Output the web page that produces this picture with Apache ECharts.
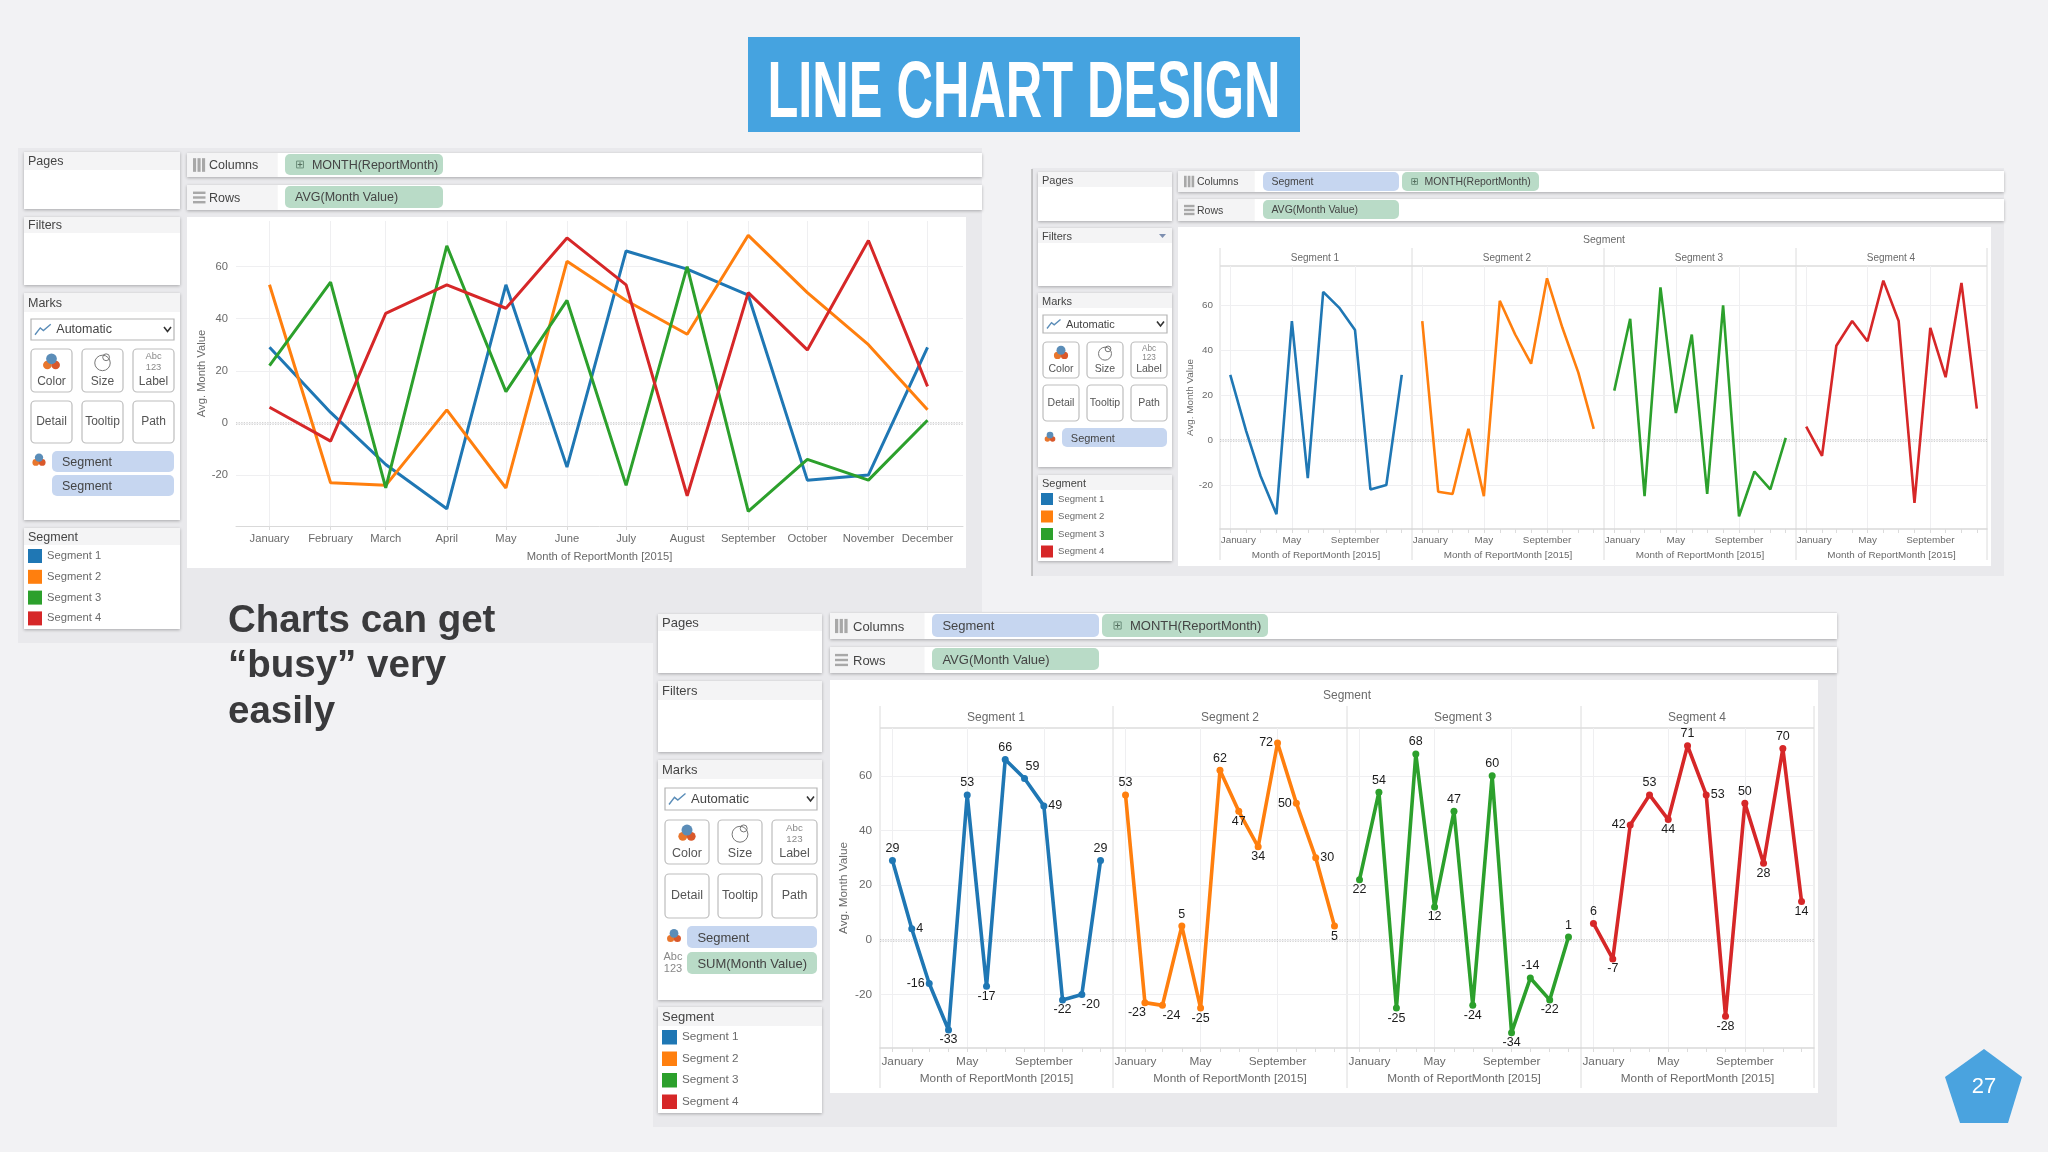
<!DOCTYPE html>
<html><head><meta charset="utf-8">
<style>html,body{margin:0;padding:0;background:#f2f2f4}#c{width:2048px;height:1152px}</style>
<script src="https://cdn.jsdelivr.net/npm/echarts@6/dist/echarts.min.js"></script>
</head><body><div id="c"></div>
<script>
// ---- data ----
const months = ['January','February','March','April','May','June','July','August','September','October','November','December'];
const sparseMonths = ['January','May','September'];
const yTicks = [-20,0,20,40,60];
const segmentNames = ['Segment 1','Segment 2','Segment 3','Segment 4'];
const segment1 = [29,4,-16,-33,53,-17,66,59,49,-22,-20,29];
const segment2 = [53,-23,-24,5,-25,62,47,34,72,50,30,5];
const segment3 = [22,54,-25,68,12,47,-24,60,-34,-14,-22,1];
const segment4 = [6,-7,42,53,44,71,53,-28,50,28,70,14];
const segmentColors = ['#1f77b4','#ff7f0e','#2ca02c','#d62728'];
const allSegments = [segment1,segment2,segment3,segment4];
// label placement for the labelled small multiples (styling, not data)
const labelSides = [
 ['t','r','l','b','t','b','t','tr','r','b','br','t'],
 ['t','bl','br','t','b','t','b','b','l','l','r','b'],
 ['b','t','b','t','b','t','b','t','b','t','b','t'],
 ['t','b','l','t','b','t','r','b','t','b','t','b']
];
const FONT = '"Liberation Sans", Arial, sans-serif';
const DAY = 86400000;
const monthTime = i => Date.UTC(2015,i,1);
const xValues = months.map((m,i)=>monthTime(i));
const sparseValues = sparseMonths.map(m=>monthTime(months.indexOf(m)));
const Y_MIN=-39.6, Y_MAX=77.5;

const grids=[],xAxes=[],yAxes=[],series=[];
function addPane(o){
  grids.push({left:o.left,top:o.top,width:o.right-o.left,height:o.bottom-o.top,show:!!o.frame,borderColor:'#d9d9d9',borderWidth:1,backgroundColor:'transparent'});
  const xmin=monthTime(0)-o.padL*DAY, xmax=monthTime(11)+o.padR*DAY;
  const labelVals=o.sparse?sparseValues:xValues;
  const fs=o.fs;
  const fmt=v=>{const n=months[new Date(v).getUTCMonth()];return (o.sparse&&n==='January')?'{j|'+n+'}':n;};
  // main x axis: labels, ticks and title (monthly positions are date-proportional)
  xAxes.push({gridIndex:grids.length-1,type:'value',min:xmin,max:xmax,position:'bottom',z:3,
    name:'Month of ReportMonth [2015]',nameLocation:'middle',nameGap:o.nameGapX,
    nameTextStyle:{fontFamily:FONT,fontSize:fs,color:'#6a6a6a'},
    axisLine:{show:true,onZero:false,lineStyle:{color:'#d9d9d9',width:o.frame?1:1.5}},
    axisTick:{show:true,length:4,customValues:xValues,lineStyle:{color:'#dcdcdc'}},
    axisLabel:{show:true,customValues:labelVals,hideOverlap:false,showMinLabel:true,showMaxLabel:true,margin:o.marginX,
      fontFamily:FONT,fontSize:fs,color:'#6a6a6a',formatter:fmt,
      rich:{j:{fontFamily:FONT,fontSize:fs,color:'#6a6a6a',padding:[0,0,0,o.janShift||0]}}},
    splitLine:{show:false},minorTick:{show:false},minorSplitLine:{show:false}});
  const xIdx=xAxes.length-1;
  // second x axis on the same grid: vertical grid lines only
  xAxes.push({gridIndex:grids.length-1,type:'value',min:xmin,max:xmax,position:'bottom',z:1,
    axisLine:{show:false,onZero:false},axisLabel:{show:false},
    axisTick:{show:false,customValues:labelVals},
    splitLine:{show:true,lineStyle:{color:'#efeff1',width:1}}});
  yAxes.push({gridIndex:grids.length-1,type:'value',min:Y_MIN,max:Y_MAX,z:3,
    name:o.showY?'Avg. Month Value':'',nameLocation:'middle',nameGap:o.nameGapY,
    nameTextStyle:{fontFamily:FONT,fontSize:fs,color:'#6a6a6a'},
    axisLine:{show:false},axisTick:{show:false,customValues:yTicks},
    axisLabel:{show:!!o.showY,customValues:yTicks,margin:o.marginY,fontFamily:FONT,fontSize:fs,color:'#6a6a6a'},
    splitLine:{show:true,lineStyle:{color:'#efeff1',width:1}}});
  const yIdx=yAxes.length-1;
  o.lines.forEach((k,n)=>{
    const vals=allSegments[k];
    const s={type:'line',name:segmentNames[k],xAxisIndex:xIdx,yAxisIndex:yIdx,z:4,
      itemStyle:{color:segmentColors[k]},
      lineStyle:{color:segmentColors[k],width:o.width},
      showSymbol:!!o.labels,symbol:'circle',symbolSize:o.labels?7:0,
      silent:true,
      data:vals.map((v,i)=>{
        const d={value:[monthTime(i),v]};
        if(o.labels){
          const side=labelSides[k][i];
          const pos={t:'top',b:'bottom',l:'left',r:'right',tr:'top',br:'bottom',bl:'bottom'}[side];
          const off={tr:[8,0],br:[9,0],bl:[-8,0]}[side]||[0,0];
          const dist={t:2,tr:2,b:0,br:0,bl:0,l:1,r:1}[side];
          d.label={show:true,position:pos,distance:dist,offset:off,
            fontFamily:FONT,fontSize:12.5,color:'#1c1c1c',formatter:String(v)};
        }
        return d;
      })};
    if(n===0) s.markLine={silent:true,symbol:'none',z:1,animation:false,label:{show:false},
      lineStyle:{type:'dotted',color:'#555',width:1.3},data:[{yAxis:0}]};
    series.push(s);
  });
}

// ---- chrome helpers ----
const els=[];
const rect=(x0,y0,x1,y1,fill,r,extra)=>els.push({type:'rect',silent:true,shape:{x:x0,y:y0,width:x1-x0,height:y1-y0,r:r||0},style:Object.assign({fill:fill},extra||{})});
const text=(x,y,s,size,color,align,weight)=>els.push({type:'text',silent:true,style:{x:x,y:y,text:s,font:(weight||'normal')+' '+size+'px '+FONT,fill:color||'#555',align:align||'left',verticalAlign:'middle'}});
const seg=(x0,y0,x1,y1,c,w,dash)=>els.push({type:'line',silent:true,shape:{x1:x0,y1:y0,x2:x1,y2:y1},style:{stroke:c,lineWidth:w||1,lineDash:dash||null}});
const poly=(pts,c,w)=>els.push({type:'polyline',silent:true,shape:{points:pts},style:{stroke:c,lineWidth:w||1.2,fill:null}});
const dot=(x,y,r,fill,stroke)=>els.push({type:'circle',silent:true,shape:{cx:x,cy:y,r:r},style:{fill:fill||'none',stroke:stroke||null,lineWidth:1}});
const SH={shadowBlur:3,shadowColor:'rgba(0,0,0,.28)',shadowOffsetY:1};
function panel(x0,y0,x1,y1,hy,title,fs){
  rect(x0,y0,x1,y1,'#fff',0,SH);
  rect(x0,y0,x1,hy,'#f4f4f5');
  if(title) text(x0+4,(y0+hy)/2+1,title,fs,'#444');
}
function shelf(x0,y0,x1,y1,labelX,label,iconX,fs,isRows){
  rect(x0,y0,x1,y1,'#fff',0,SH);
  rect(x0,y0,labelX+(fs*5.5),y1,'#f4f4f5');
  const cy=(y0+y1)/2, h=fs*.42;
  if(isRows){for(let i=-1;i<=1;i++) rect(iconX,cy+i*h*.9-1.2,iconX+fs,cy+i*h*.9+1.2,'#a8a8a8');}
  else{for(let i=0;i<3;i++) rect(iconX+i*fs*.36,cy-h*1.3,iconX+i*fs*.36+fs*.25,cy+h*1.3,'#a8a8a8');}
  text(labelX,cy+1,label,fs,'#444');
}
function pill(x0,y0,x1,y1,fill,label,fs,plus){
  rect(x0,y0,x1,y1,fill,5);
  const cy=(y0+y1)/2;
  if(plus){
    const s=fs*.55,px=x0+fs*1.2;
    rect(px-s/2,cy-s/2,px+s/2,cy+s/2,'none',0,{stroke:'#6c8f7b',lineWidth:1});
    seg(px-s/3,cy,px+s/3,cy,'#55705f',1);seg(px,cy-s/3,px,cy+s/3,'#55705f',1);
    text(x0+fs*2.15,cy+1,label,fs,'#444');
  } else text(x0+fs*.8,cy+1,label,fs,'#444');
}
function colorIcon(cx,cy,s){
  dot(cx-s*.4,cy+s*.3,s*.42,'#e8762d');dot(cx+s*.4,cy+s*.3,s*.42,'#d9582b');dot(cx,cy-s*.3,s*.52,'#5b8db8');
}
function button(x0,y0,x1,y1,label,fs,icon){
  rect(x0,y0,x1,y1,'#fff',4,{stroke:'#bdbdbd',lineWidth:1.2});
  const cx=(x0+x1)/2,h=y1-y0;
  text(cx,icon?y0+h*.76:y0+h*.5,label,fs,'#555','center');
  const iy=y0+h*.3,s=h*.24;
  if(icon==='color') colorIcon(cx,iy,s);
  if(icon==='size'){dot(cx,iy+s*.1,s*.75,'none','#777');dot(cx+s*.35,iy-s*.45,s*.33,'none','#777');}
  if(icon==='label'){text(cx,iy-s*.5,'Abc',fs*.78,'#888','center');text(cx,iy+s*.55,'123',fs*.78,'#888','center');}
}
function marks(o){
  const [a,b]=o.dropX;
  rect(a,o.dropY[0],b,o.dropY[1],'#fff',0,{stroke:'#b5b5b5',lineWidth:1.2});
  const my=(o.dropY[0]+o.dropY[1])/2, u=(o.dropY[1]-o.dropY[0])/4;
  poly([[a+4,my+u],[a+4+u,my-u*.3],[a+4+u*1.6,my+u*.2],[a+4+u*3,my-u]],'#5b8db8',1.4);
  text(a+8.5+u*3.2,my+.5,'Automatic',o.fs,'#444');
  poly([[b-10,my-2.5],[b-6.5,my+2],[b-3,my-2.5]],'#333',1.6);
  const B=o.btnX;
  button(B[0][0],o.row1[0],B[0][1],o.row1[1],'Color',o.fs-.5,'color');
  button(B[1][0],o.row1[0],B[1][1],o.row1[1],'Size',o.fs-.5,'size');
  button(B[2][0],o.row1[0],B[2][1],o.row1[1],'Label',o.fs-.5,'label');
  button(B[0][0],o.row2[0],B[0][1],o.row2[1],'Detail',o.fs-.5);
  button(B[1][0],o.row2[0],B[1][1],o.row2[1],'Tooltip',o.fs-.5);
  button(B[2][0],o.row2[0],B[2][1],o.row2[1],'Path',o.fs-.5);
}

// ---- slide backgrounds ----
rect(18,148,982,643,'#e9e9ec');
rect(1032,168,2004,576,'#e9e9ec');
seg(1032,169,1032,576,'#9a9a9a',1);

// ---- left chart chrome ----
panel(24,152,180,209,170,'Pages',12.5);
panel(24,217,180,285,233,'Filters',12.5);
panel(24,293,180,520,312,'Marks',12.5);
panel(24,528,180,629,545,'Segment',12.5);
shelf(187,153,982,177,209,'Columns',193,12.5);
shelf(187,185,982,210,209,'Rows',193,12.5,true);
pill(285,154,443,175,'#b9dbc7','MONTH(ReportMonth)',12.5,true);
pill(285,186,443,208,'#b9dbc7','AVG(Month Value)',12.5);
marks({dropX:[31,174],dropY:[319,340],btnX:[[31,72],[82,123],[133,174]],row1:[349,392],row2:[401,443],fs:12.5});
colorIcon(39,460,8);
pill(52,451,174,472,'#c6d6f0','Segment',12.5);
pill(52,475,174,496,'#c6d6f0','Segment',12.5);
rect(187,217,966,568,'#fff');

// ---- right chart chrome ----
panel(1038,172,1172,221,187,'Pages',11);
panel(1038,228,1172,286,243,'Filters',11);
els.push({type:'polygon',silent:true,shape:{points:[[1159,234],[1166,234],[1162.5,238]]},style:{fill:'#7d8fb0'}});
panel(1038,293,1172,467,308,'Marks',11);
panel(1038,475,1172,561,490,'Segment',11);
shelf(1178,171,2004,192,1197,'Columns',1184,10.5);
shelf(1178,199,2004,221,1197,'Rows',1184,10.5,true);
pill(1263,172,1399,191,'#c6d6f0','Segment',10.5);
pill(1402,172,1539,191,'#b9dbc7','MONTH(ReportMonth)',10.5,true);
pill(1263,200,1399,219,'#b9dbc7','AVG(Month Value)',10.5);
marks({dropX:[1043,1167],dropY:[315,333],btnX:[[1043,1079],[1087,1123],[1131,1167]],row1:[342,378],row2:[385,421],fs:11});
colorIcon(1050,437,6.5);
pill(1062,428,1167,447,'#c6d6f0','Segment',11);
rect(1178,227,1991,566,'#fff');
text(1604,240,'Segment',10.5,'#6a6a6a','center');
[1220,1412,1604,1796,1987].forEach(x=>seg(x,248,x,560,'#dcdcdc',1));
seg(1220,266,1987,266,'#dcdcdc',1.5);
[1315,1507,1699,1891].forEach((x,i)=>text(x,258,segmentNames[i],10,'#6a6a6a','center'));

// ---- bottom-left text and bottom chart chrome ----
[['Charts can get',621],['\u201cbusy\u201d very',666],['easily',712]].forEach(t=>text(228,t[1],t[0],38.5,'#3a3a3c','left','bold'));
rect(653,612,1837,1127,'#e9e9ec');
panel(658,614,822,673,631,'Pages',13);
panel(658,681,822,752,700,'Filters',13);
panel(658,760,822,1000,779,'Marks',13);
panel(658,1007,822,1113,1026,'Segment',13);
shelf(830,613,1837,639,853,'Columns',835,13);
shelf(830,647,1837,673,853,'Rows',835,13,true);
pill(932,614,1099,637,'#c6d6f0','Segment',13);
pill(1102,614,1268,637,'#b9dbc7','MONTH(ReportMonth)',13,true);
pill(932,648,1099,670,'#b9dbc7','AVG(Month Value)',13);
marks({dropX:[665,817],dropY:[788,810],btnX:[[665,709],[718,762],[772,817]],row1:[820,864],row2:[874,918],fs:13});
colorIcon(674,936,8.5);
pill(687,926,817,948,'#c6d6f0','Segment',13);
text(673,957,'Abc',11,'#888','center');text(673,969,'123',11,'#888','center');
pill(687,952,817,974,'#b9dbc7','SUM(Month Value)',13);
rect(830,680,1818,1093,'#fff');
text(1347,696,'Segment',12,'#6a6a6a','center');
[880,1113,1347,1581,1814].forEach(x=>seg(x,706,x,1088,'#dcdcdc',1));
seg(880,728,1814,728,'#dcdcdc',1.5);
[996,1230,1463,1697].forEach((x,i)=>text(x,718,segmentNames[i],12,'#6a6a6a','center'));

// ---- title and page number ----
rect(748,37,1300,132,'#45a3e0');
(function(){
  const ctx=document.createElement('canvas').getContext('2d');
  const font='bold 80px "Liberation Sans Narrow","Liberation Sans",sans-serif';
  ctx.font=font;const w=ctx.measureText('LINE CHART DESIGN').width;
  els.push({type:'text',silent:true,x:1024,y:95,scaleX:513/w,style:{x:0,y:0,text:'LINE CHART DESIGN',font:font,fill:'#fff',align:'center',verticalAlign:'middle'}});
})();
els.push({type:'polygon',silent:true,shape:{points:[[1984,1049],[2022,1077],[2008,1123],[1960,1123],[1945,1077]]},style:{fill:'#4aa3df'}});
text(1984,1087,'27',22,'#fff','center');

// ---- panes ----
addPane({left:236,right:963,top:221,bottom:526,padL:17,padR:18,lines:[0,1,2,3],width:3,frame:true,fs:11.2,showY:true,
  nameGapX:25,nameGapY:29,marginX:7,marginY:8});
const paneR=[[1220,1412],[1412,1604],[1604,1796],[1796,1987]];
paneR.forEach((p,i)=>addPane({left:p[0],right:p[1],top:266,bottom:529,padL:20,padR:20,lines:[i],width:2.6,sparse:true,janShift:16,fs:9.9,
  showY:i===0,nameGapX:21,nameGapY:23,marginX:6,marginY:7}));
const paneB=[[880,1113],[1113,1347],[1347,1581],[1581,1814]];
paneB.forEach((p,i)=>addPane({left:p[0],right:p[1],top:728,bottom:1048,padL:20,padR:20,lines:[i],width:3.6,labels:true,sparse:true,janShift:20,fs:11.8,
  showY:i===0,nameGapX:25,nameGapY:30,marginX:8,marginY:8}));

const legendBase={orient:'vertical',icon:'rect',itemWidth:14,itemHeight:14,selectedMode:false,data:segmentNames,z:5,padding:0};
const chart=echarts.init(document.getElementById('c'),null,{width:2048,height:1152,renderer:'canvas'});
chart.setOption({
  animation:false,backgroundColor:'#f2f2f4',
  graphic:{z:-10,elements:els},
  grid:grids,xAxis:xAxes,yAxis:yAxes,series:series,
  tooltip:{show:false},
  legend:[
    Object.assign({},legendBase,{left:28,top:549,itemGap:6.8,itemWidth:14,itemHeight:14,textStyle:{fontFamily:FONT,fontSize:11.2,color:'#6a6a6a'}}),
    Object.assign({},legendBase,{left:1041,top:493,itemGap:5.5,itemWidth:12,itemHeight:12,textStyle:{fontFamily:FONT,fontSize:9.6,color:'#6a6a6a'}}),
    Object.assign({},legendBase,{left:662,top:1030,itemGap:7,itemWidth:15,itemHeight:14.5,textStyle:{fontFamily:FONT,fontSize:11.7,color:'#6a6a6a'}})
  ]
});
</script></body></html>
